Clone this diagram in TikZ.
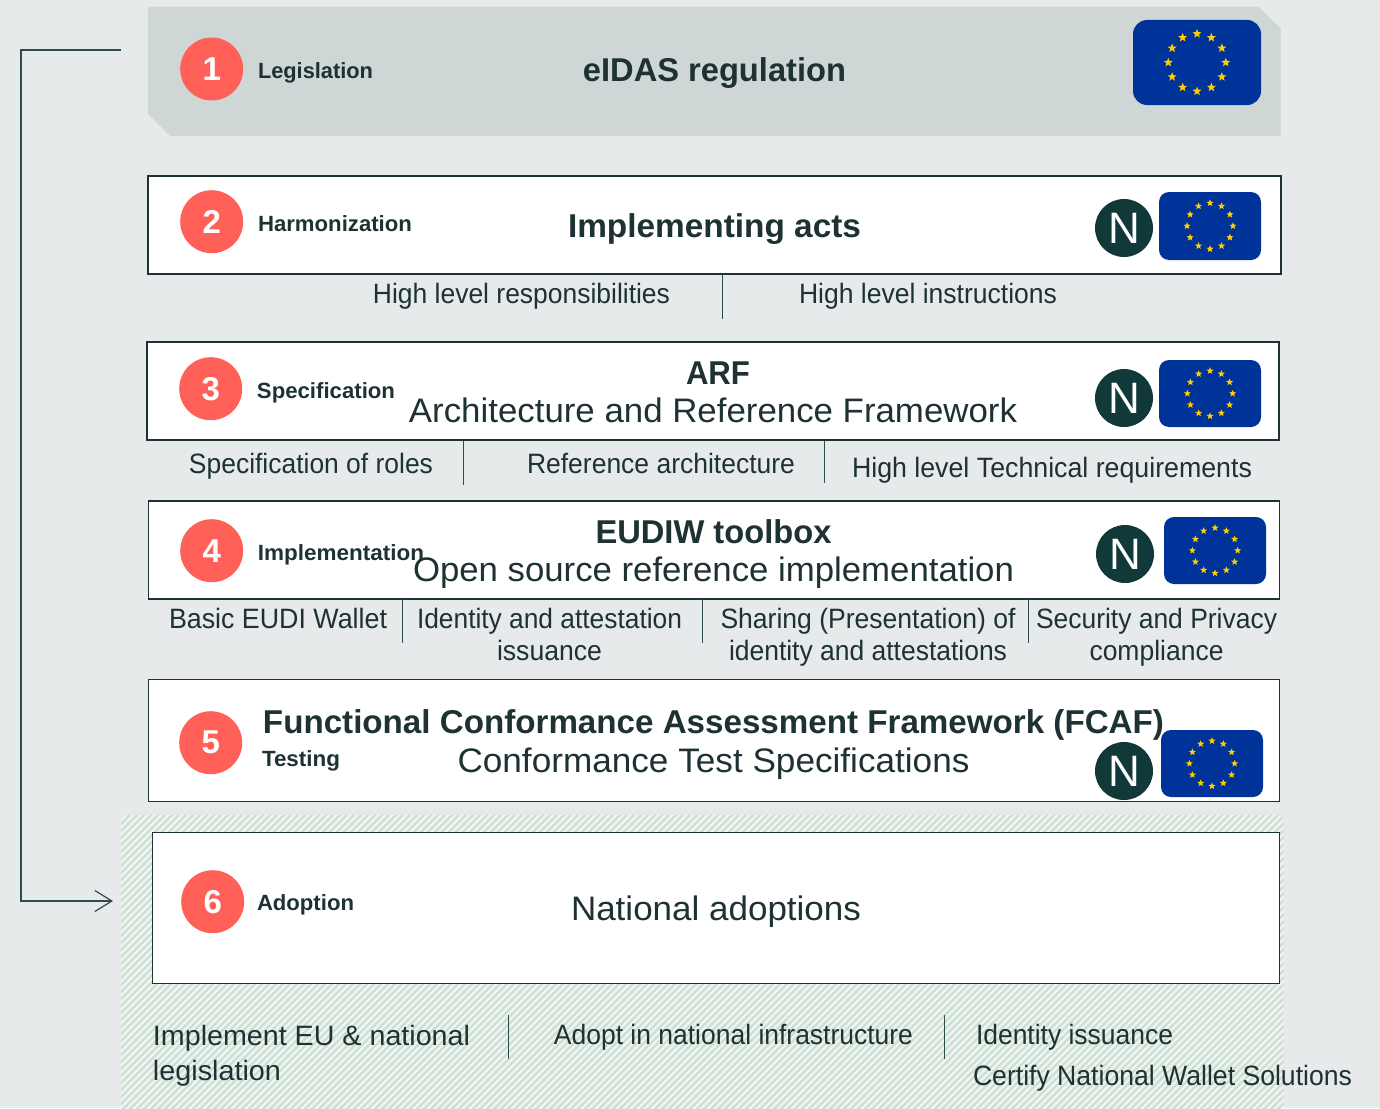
\documentclass[tikz,border=0pt]{standalone}
\usepackage{fontspec}
\usepackage{graphicx}
\setmainfont{Liberation Sans}
\usetikzlibrary{shapes.geometric,arrows.meta}
\definecolor{pagebg}{HTML}{E6EAEB}
\definecolor{legbg}{HTML}{CFD7D6}
\definecolor{ink}{HTML}{1E3233}
\definecolor{coral}{HTML}{FF6058}
\definecolor{nbg}{HTML}{12393A}
\definecolor{eublue}{HTML}{003399}
\definecolor{eustarc}{HTML}{FFCC00}
\definecolor{hatch}{HTML}{CDDFD3}
\definecolor{hatchbg}{HTML}{F0F4F1}
\definecolor{rulec}{HTML}{2F4C4C}
\newcommand\fw[2]{\resizebox{#1pt}{\height}{#2}}
\newcommand\sz[2]{\fontsize{#1}{#2}\selectfont}
% flag: name, cx, cy, w, h, radius
\newcommand\euflag[6]{%
  \node[flagbox,minimum width=#4pt,minimum height=#5pt,rounded corners=#6pt] (#1) at (#2,#3) {};
  \pgfmathsetmacro\ringr{0.338*#5}
  \pgfmathsetmacro\starsz{0.11*#5}
  \foreach \a in {0,30,...,330}{
    \node[eustar,minimum size=\starsz pt] (#1-s\a) at ([shift={(\a:\ringr)}]#1.center) {};
  }%
}
\tikzset{
  panel/.style={draw=ink,line width=1.2pt,fill=white,inner sep=0pt,outer sep=0pt},
  flagbox/.style={fill=eublue,inner sep=0pt},
  eustar/.style={star,star points=5,star point ratio=2.3,fill=eustarc,inner sep=0pt},
  numc/.style={circle,fill=coral,text=white,minimum size=63pt,inner sep=0pt,font=\bfseries\sz{33}{33}},
  ncirc/.style={circle,fill=nbg,text=white,minimum size=58pt,inner sep=0pt,font=\sz{44}{44}},
  tag/.style={anchor=base,inner sep=0pt,text=ink,font=\bfseries\sz{22}{26}},
  head/.style={anchor=base,inner sep=0pt,text=ink,font=\bfseries\sz{33}{38}},
  sub/.style={anchor=base,inner sep=0pt,text=ink,font=\sz{34}{38}},
  item/.style={anchor=base,inner sep=0pt,text=ink,font=\sz{28}{32}},
  sep/.style={draw=rulec,line width=1.1pt},
  link/.style={draw=rulec,line width=1.2pt}
}
\begin{document}
\begin{tikzpicture}[x=1pt,y=-1pt]
\useasboundingbox (0,0) rectangle (1380,1108);
\fill[pagebg] (0,0) rectangle (1380,1108);
% hatched adoption zone
\begin{scope}
  \clip[rounded corners=5pt] (121,815) rectangle (1283.5,1120);
  \fill[hatchbg] (121,815) rectangle (1284,1120);
  \foreach \k in {0,1,...,215}{
    \draw[hatch,line width=2.4pt] ({121+\k*7-310},1120) -- ++(310,-310);
  }
\end{scope}
% legislation band
\fill[legbg] (148,7) -- (1259,7) -- (1280.5,28) -- (1280.5,136) -- (170,136) -- (148,114) -- cycle;
% panels
\node[panel,minimum width=1133pt,minimum height=98pt] (p2) at (714.5,224.9) {};
\node[panel,minimum width=1132pt,minimum height=98pt] (p3) at (713,390.9) {};
\node[panel,minimum width=1131pt,minimum height=98pt] (p4) at (713.8,549.9) {};
\node[panel,minimum width=1131pt,minimum height=121.5pt] (p5) at (713.8,740.5) {};
\node[panel,minimum width=1127pt,minimum height=151pt] (p6) at (715.8,908.2) {};
% numbers
\node[numc] (c1) at (211.7,69) {\raisebox{-1.6pt}{1}};
\node[numc] (c2) at (211.7,221.7) {\raisebox{-1.6pt}{2}};
\node[numc] (c3) at (210.7,388.7) {\raisebox{-1.6pt}{3}};
\node[numc] (c4) at (211.7,550.7) {\raisebox{-1.6pt}{4}};
\node[numc] (c5) at (210.7,742.7) {\raisebox{-1.6pt}{5}};
\node[numc] (c6) at (212.7,901.7) {\raisebox{-1.6pt}{6}};
% flags
\euflag{f1}{1197}{62.5}{128}{85}{14}
\euflag{f2}{1210}{226}{102}{68}{10}
\euflag{f3}{1210}{393.5}{102}{67}{10}
\euflag{f4}{1215}{550.5}{102}{67}{10}
\euflag{f5}{1212}{763.5}{102}{67}{10}
\node[ncirc] (n2) at (1124,228) {N};
\node[ncirc] (n3) at (1124,398) {N};
\node[ncirc] (n4) at (1125,554) {N};
\node[ncirc] (n5) at (1124,771) {N};
% tags
\node[tag] (t1) at (315.5,78.5) {\fw{115}{Legislation}};
\node[tag] (t2) at (335,231) {\fw{154}{Harmonization}};
\node[tag] (t3) at (326,398) {\fw{138}{Specification}};
\node[tag] (t4) at (341,560) {\fw{166}{Implementation}};
\node[tag] (t5) at (301,766) {\fw{78}{Testing}};
\node[tag] (t6) at (305.5,910) {\fw{97}{Adoption}};
% headings
\node[head] (h1) at (714.5,81.5) {\fw{263}{eIDAS regulation}};
\node[head] (h2) at (714.5,237) {\fw{293}{Implementing acts}};
\node[sub,align=center] (h3) at (713,422.5) {\hspace*{10pt}\fw{64}{\bfseries\sz{33}{38}ARF}\\\fw{608}{Architecture and Reference Framework}};
\node[sub,align=center] (h4) at (713.5,581.5) {\fw{236}{\bfseries\sz{33}{38}EUDIW toolbox}\\\fw{601}{Open source reference implementation}};
\node[sub,align=center,font=\sz{34}{39}] (h5) at (713.5,772.8) {\fw{901}{\bfseries\sz{33}{39}Functional Conformance Assessment Framework (FCAF)}\\\fw{512}{Conformance Test Specifications}};
\node[sub] (h6) at (716,920.5) {\fw{290}{National adoptions}};
% items
\node[item] (i21) at (521.5,303) {\fw{297}{High level responsibilities}};
\node[item] (i22) at (928,303) {\fw{258}{High level instructions}};
\node[item] (i31) at (311,473) {\fw{244}{Specification of roles}};
\node[item] (i32) at (661,473) {\fw{268}{Reference architecture}};
\node[item] (i33) at (1052,477) {\fw{400}{High level Technical requirements}};
\node[item] (i41) at (278,628) {\fw{218}{Basic EUDI Wallet}};
\node[item,align=center] (i42) at (549.5,660) {\fw{265}{Identity and attestation}\\\fw{105}{issuance}};
\node[item,align=center] (i43) at (868,660) {\fw{295}{Sharing (Presentation) of}\\\fw{278}{identity and attestations}};
\node[item,align=center] (i44) at (1156.5,660) {\fw{241}{Security and Privacy}\\\fw{134}{compliance}};
\node[item,align=left,font=\sz{28}{35}] (i61) at (311.5,1080) {\fw{317}{Implement EU \& national}\\\fw{128}{legislation}};
\node[item] (i62) at (733.5,1044) {\fw{359}{Adopt in national infrastructure}};
\node[item] (i63) at (1074.5,1044) {\fw{197}{Identity issuance}};
\node[item] (i64) at (1162.5,1085) {\fw{379}{Certify National Wallet Solutions}};
% separators
\draw[sep] (722.7,275) -- (722.7,319);
\draw[sep] (463.7,441) -- (463.7,485);
\draw[sep] (824.7,441) -- (824.7,483);
\draw[sep] (402.7,599) -- (402.7,643);
\draw[sep] (702.7,599) -- (702.7,643);
\draw[sep] (1028.7,599) -- (1028.7,643);
\draw[sep] (508.7,1015) -- (508.7,1059);
\draw[sep] (944.7,1015) -- (944.7,1059);
% feedback connector
\coordinate (fbstart) at (121,50);
\coordinate (fbtop) at (21,50);
\coordinate (fbbot) at (21,901);
\coordinate (fbend) at (113,901);
\draw[link,-{Straight Barb[length=17pt,width=21pt,line width=1.2pt]}] (fbstart) -- (fbtop) -- (fbbot) -- (fbend);
\end{tikzpicture}
\end{document}
